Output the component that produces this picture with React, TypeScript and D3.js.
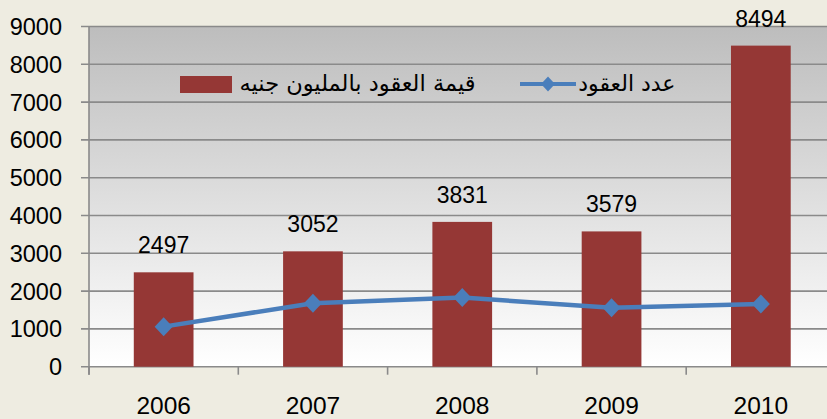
import React from "react";
import * as d3 from "d3";

const years = ["2006", "2007", "2008", "2009", "2010"];
const contractValues = [2497, 3052, 3831, 3579, 8494];
const contractCounts = [1060, 1680, 1830, 1560, 1660];
const yTicks = [0, 1000, 2000, 3000, 4000, 5000, 6000, 7000, 8000, 9000];
const barLegend = "قيمة العقود بالمليون جنيه";
const lineLegend = "عدد العقود";

const W = 827;
const H = 419;
const left = 89;
const top = 26.5;
const bottom = 366.7;
const right = 835.5;

export default function App() {
  const x = d3
    .scaleBand<string>()
    .domain(years)
    .range([left, right])
    .paddingInner(0.6)
    .paddingOuter(0.3);
  const y = d3.scaleLinear().domain([0, 9000]).range([bottom, top]);
  const step = x.step();
  const bw = x.bandwidth();
  const cx = (d: string) => (x(d) as number) + bw / 2;

  const line = d3
    .line<number>()
    .x((_, i) => cx(years[i]))
    .y((d) => y(d));

  const diamond = (px: number, py: number, hw: number, hh: number) =>
    `M${px},${py - hh}L${px + hw},${py}L${px},${py + hh}L${px - hw},${py}Z`;

  const gridColor = "#8a8a8a";
  const numFont = "'Liberation Sans', Arial, sans-serif";
  const arFont = "'DejaVu Sans', sans-serif";

  return (
    <svg
      width={W}
      height={H}
      style={{ position: "absolute", left: 0, top: 0, display: "block" }}
    >
      <defs>
        <linearGradient id="plotBg" x1="0" y1="0" x2="0" y2="1">
          <stop offset="0" stopColor="#bdbdbd" />
          <stop offset="1" stopColor="#ffffff" />
        </linearGradient>
      </defs>
      <rect x={0} y={0} width={W} height={H} fill="#eeece1" />
      <rect
        x={left}
        y={top}
        width={right - left}
        height={bottom - top}
        fill="url(#plotBg)"
      />
      {yTicks.map((t) => (
        <g key={t}>
          <line
            x1={left - 8}
            x2={right}
            y1={y(t)}
            y2={y(t)}
            stroke={gridColor}
            strokeWidth={1.6}
          />
          <text
            x={62}
            y={y(t)}
            dy="0.36em"
            textAnchor="end"
            fontFamily={numFont}
            fontSize={23.5}
            fill="#000"
          >
            {t}
          </text>
        </g>
      ))}
      <line
        x1={left}
        x2={left}
        y1={top}
        y2={bottom + 8}
        stroke={gridColor}
        strokeWidth={1.6}
      />
      {years.map((yr, i) => (
        <line
          key={"t" + yr}
          x1={left + i * step}
          x2={left + i * step}
          y1={bottom}
          y2={bottom + 8}
          stroke={gridColor}
          strokeWidth={1.6}
        />
      ))}
      {years.map((yr, i) => (
        <rect
          key={"b" + yr}
          x={x(yr)}
          y={y(contractValues[i])}
          width={bw}
          height={bottom - y(contractValues[i])}
          fill="#953735"
        />
      ))}
      {years.map((yr, i) => (
        <text
          key={"l" + yr}
          x={cx(yr)}
          y={y(contractValues[i]) - 19}
          textAnchor="middle"
          fontFamily={numFont}
          fontSize={23}
          fill="#000"
        >
          {contractValues[i]}
        </text>
      ))}
      <path
        d={line(contractCounts) || ""}
        fill="none"
        stroke="#4a7ebb"
        strokeWidth={4.5}
        strokeLinejoin="round"
      />
      {years.map((yr, i) => (
        <path
          key={"d" + yr}
          d={diamond(cx(yr), y(contractCounts[i]), 9, 9.5)}
          fill="#4a7ebb"
        />
      ))}
      {years.map((yr) => (
        <text
          key={"x" + yr}
          x={cx(yr)}
          y={413.5}
          textAnchor="middle"
          fontFamily={numFont}
          fontSize={24.5}
          fill="#000"
        >
          {yr}
        </text>
      ))}
      {/* legend */}
      <rect x={180} y={76} width={52} height={17} fill="#953735" />
      <text
        x={475.5}
        y={91}
        textAnchor="end"
        fontFamily={arFont}
        fontSize={22.5}
        fill="#000"
      >
        {barLegend}
      </text>
      <line
        x1={520}
        x2={576}
        y1={84}
        y2={84}
        stroke="#4a7ebb"
        strokeWidth={4}
      />
      <path d={diamond(548, 84, 7, 7.5)} fill="#4a7ebb" />
      <text
        x={675.5}
        y={91}
        textAnchor="end"
        fontFamily={arFont}
        fontSize={22}
        fill="#000"
      >
        {lineLegend}
      </text>
    </svg>
  );
}
